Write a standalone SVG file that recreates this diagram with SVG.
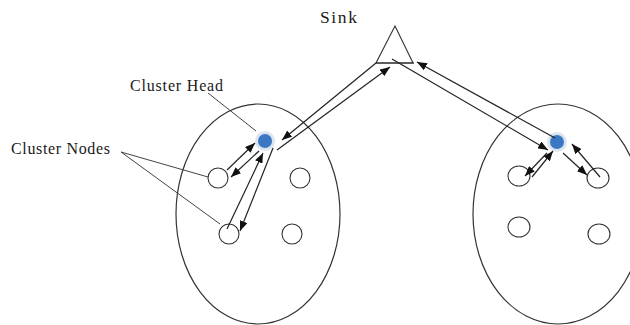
<svg xmlns="http://www.w3.org/2000/svg" width="630" height="325" viewBox="0 0 630 325">
<style>
  .lbl { font-family: "Liberation Serif", "Times New Roman", serif; font-size: 16px; fill: #1a1a1a; }
  .cl { fill: none; stroke: #333; stroke-width: 1.2; }
  .node { fill: #fff; stroke: #333; stroke-width: 1.1; }
  .ch { fill: #3b78c4; }
  .glow { fill: #dce5ef; }
  .ln { fill: none; stroke: #222; stroke-width: 1.2; }
  .arr { fill: none; stroke: #222; stroke-width: 1.2; marker-end: url(#ah); }
  .ptr { fill: none; stroke: #444; stroke-width: 1; }
</style>
<defs>
  <marker id="ah" markerUnits="userSpaceOnUse" markerWidth="10" markerHeight="8" refX="10" refY="4" orient="auto">
    <path d="M0,0 L10,4 L0,8 z" fill="#111"/>
  </marker>
</defs>
<rect width="630" height="325" fill="#fff"/>

<g id="cluster-left">
  <ellipse class="cl" cx="258" cy="214" rx="82" ry="110"/>
</g>
<g id="cluster-right">
  <ellipse class="cl" cx="558" cy="214" rx="85" ry="110"/>
</g>

<g id="sink">
  <polygon class="node" points="395,26 376,63 413,63"/>
  <line class="ln" x1="376" y1="63" x2="414" y2="63"/>
  <text class="lbl" x="320" y="23" style="font-size:17.5px" textLength="37" lengthAdjust="spacing">Sink</text>
</g>

<g id="ch-left">
  <circle class="glow" cx="265" cy="141" r="10"/>
  <circle class="ch" cx="265" cy="141" r="7"/>
</g>
<g id="ch-right">
  <circle class="glow" cx="557" cy="142" r="10"/>
  <circle class="ch" cx="557" cy="142" r="7"/>
</g>

<g id="left-n1"><circle class="node" cx="218" cy="178" r="10"/></g>
<g id="left-n2"><circle class="node" cx="229" cy="234" r="10"/></g>
<g id="left-n3"><circle class="node" cx="300" cy="178" r="10"/></g>
<g id="left-n4"><circle class="node" cx="292" cy="234" r="10"/></g>

<g id="right-n1"><ellipse class="node" cx="519" cy="176" rx="11" ry="10"/></g>
<g id="right-n2"><ellipse class="node" cx="598" cy="178" rx="11" ry="10"/></g>
<g id="right-n3"><ellipse class="node" cx="519" cy="227" rx="11" ry="10"/></g>
<g id="right-n4"><ellipse class="node" cx="599" cy="234" rx="11" ry="10"/></g>

<g id="connectors">
  <line class="arr" x1="227" y1="170" x2="255" y2="143"/>
  <line class="arr" x1="259" y1="151" x2="231" y2="177"/>
  <line class="arr" x1="227" y1="229" x2="263" y2="153"/>
  <line class="arr" x1="273" y1="148" x2="240" y2="231"/>
  <line class="arr" x1="376" y1="63" x2="282" y2="140"/>
  <line class="arr" x1="277" y1="150" x2="390" y2="67"/>
  <line class="arr" x1="555" y1="138" x2="417" y2="62"/>
  <line class="arr" x1="392" y1="59" x2="548" y2="150"/>
  <line class="arr" x1="547" y1="153" x2="525" y2="176"/>
  <line class="arr" x1="532" y1="177" x2="553" y2="151"/>
  <line class="arr" x1="563" y1="153" x2="587" y2="175"/>
  <line class="arr" x1="600" y1="177" x2="572" y2="144"/>
</g>

<g id="label-cluster-head">
  <text class="lbl" x="130" y="91" textLength="93" lengthAdjust="spacing">Cluster Head</text>
  <line class="ptr" x1="208" y1="93" x2="256" y2="131"/>
</g>
<g id="label-cluster-nodes">
  <text class="lbl" x="11" y="154" textLength="99" lengthAdjust="spacing">Cluster Nodes</text>
  <line class="ptr" x1="121" y1="152" x2="208" y2="177"/>
  <line class="ptr" x1="121" y1="152" x2="220" y2="224"/>
</g>
</svg>
